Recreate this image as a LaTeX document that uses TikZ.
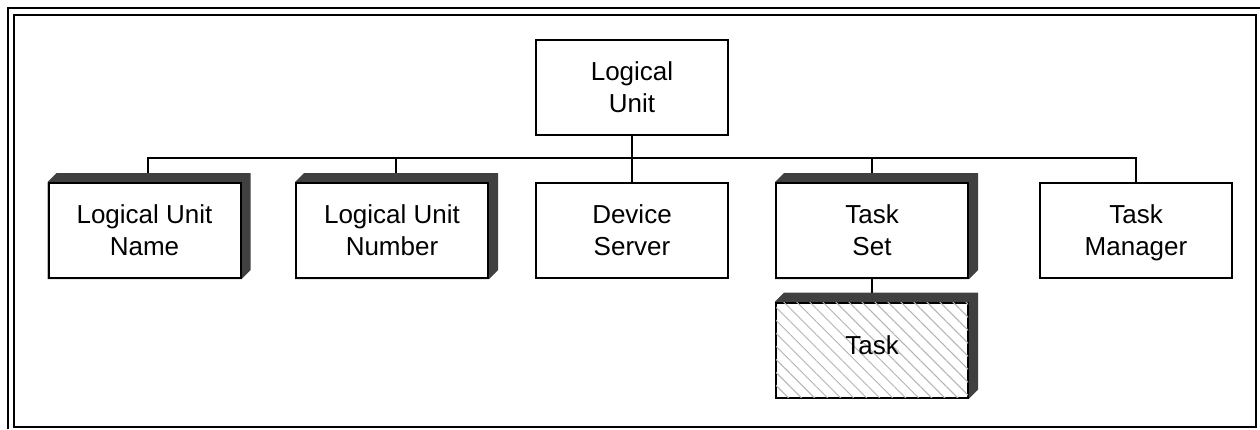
\documentclass[tikz,border=0pt]{standalone}
\usepackage{fontspec}
\setmainfont{Liberation Sans}
\usetikzlibrary{backgrounds,patterns.meta}
\definecolor{shadowGray}{HTML}{404040}
\definecolor{hatchGray}{HTML}{B4B4B4}

\begin{document}
\begin{tikzpicture}[x=0.5pt,y=-0.5pt,
  wire/.style={draw,line width=1pt},
  box/.style={wire,fill=white,minimum width=96pt,minimum height=47.5pt,
    inner sep=0pt,align=center,font=\fontsize{13}{16}\selectfont,text depth=0pt},
  hatched/.style={box,text depth=4.5pt,
    postaction={pattern={Lines[angle=-45,distance=4.6pt,line width=0.5pt]},
    pattern color=hatchGray}}]
\useasboundingbox (0,0) rectangle (1260,429);
\draw[wire] (8,429) -- (8,8) -- (1260,8);
\draw[wire] (14,15) rectangle (1256,427);
\node[box] (logicalUnit) at (632,87) {Logical\\Unit};
\node[box] (luName) at (144.5,230.5) {Logical Unit\\Name};
\node[box] (luNumber) at (392,230.5) {Logical Unit\\Number};
\node[box] (devServer) at (632,230.5) {Device\\Server};
\node[box] (taskSet) at (872,230.5) {Task\\Set};
\node[box] (taskMgr) at (1136,230.5) {Task\\Manager};
\node[hatched] (task) at (872,350) {Task};
\coordinate (bus) at (632,158);
\begin{scope}[on background layer]
\draw[wire] (logicalUnit) -- (bus);
\foreach \n/\dx in {luName/1.5pt,luNumber/2pt,devServer/0pt,taskSet/0pt,taskMgr/0pt}
  \draw[wire] ([xshift=\dx]\n.north) |- (bus);
\draw[wire] (taskSet) -- (task);
\foreach \n in {luName,luNumber,taskSet,task}
  \fill[shadowGray] (\n.north west) -- ++(9,-9) -- ([shift={(9,-9)}]\n.north east)
    -- ([shift={(9,-9)}]\n.south east) -- (\n.south east) -- (\n.south west) -- cycle;
\end{scope}
\end{tikzpicture}
\end{document}
